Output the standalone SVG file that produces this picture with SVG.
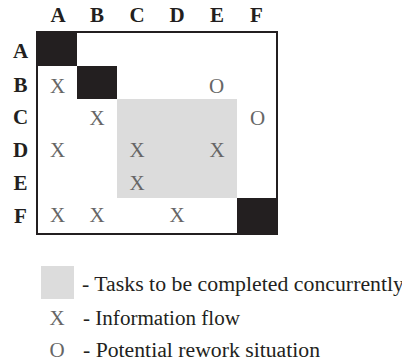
<svg xmlns="http://www.w3.org/2000/svg" width="402" height="364" viewBox="0 0 402 364">
<style>
.hd{font-family:'Liberation Serif','DejaVu Serif',serif;font-size:21px;font-weight:bold;fill:#231f20;text-anchor:middle}
.mk{font-family:'Liberation Serif','DejaVu Serif',serif;font-size:21px;fill:#666666;text-anchor:middle}
.lg{font-family:'Liberation Serif','DejaVu Serif',serif;font-size:20px;fill:#231f20}
.blk{fill:#231f20}
.gry{fill:#dcdcdc}
</style>
<rect width="402" height="364" fill="#ffffff"/>
<g id="column-headers">
<text class="hd" x="58" y="22.3">A</text>
<text class="hd" x="97" y="22.3">B</text>
<text class="hd" x="137" y="22.3">C</text>
<text class="hd" x="177" y="22.3">D</text>
<text class="hd" x="217" y="22.3">E</text>
<text class="hd" x="256.5" y="22.3">F</text>
</g>
<g id="row-headers">
<text class="hd" x="20.5" y="58.3">A</text>
<text class="hd" x="20.5" y="91.7">B</text>
<text class="hd" x="20.5" y="124">C</text>
<text class="hd" x="20.5" y="157">D</text>
<text class="hd" x="20.5" y="190">E</text>
<text class="hd" x="20.5" y="222.5">F</text>
</g>
<g id="matrix">
<rect class="gry" x="117" y="99" width="120" height="99"/>
<rect class="blk" x="36" y="31" width="41" height="35"/>
<rect class="blk" x="77" y="66" width="40" height="33"/>
<rect class="blk" x="237" y="198" width="41" height="37"/>
<rect x="37" y="32" width="240" height="202" fill="none" stroke="#231f20" stroke-width="2"/>
</g>
<g id="marks">
<text class="mk" x="57.5" y="92.7">X</text>
<text class="mk" x="216.5" y="92.7">O</text>
<text class="mk" x="97" y="125">X</text>
<text class="mk" x="257.5" y="125">O</text>
<text class="mk" x="57.5" y="157">X</text>
<text class="mk" x="137" y="157">X</text>
<text class="mk" x="217" y="157">X</text>
<text class="mk" x="137" y="189.5">X</text>
<text class="mk" x="57.5" y="222">X</text>
<text class="mk" x="97" y="222">X</text>
<text class="mk" x="177" y="222">X</text>
</g>
<g id="legend">
<rect class="gry" x="41" y="266" width="33" height="33"/>
<text class="lg" x="82" y="291" textLength="322" lengthAdjust="spacingAndGlyphs">- Tasks to be completed concurrently</text>
<text class="mk" x="57" y="324.5">X</text>
<text class="lg" x="83" y="324.5" textLength="157" lengthAdjust="spacingAndGlyphs">- Information flow</text>
<text class="mk" x="57" y="356.5">O</text>
<text class="lg" x="83" y="356.5" textLength="237" lengthAdjust="spacingAndGlyphs">- Potential rework situation</text>
</g>
</svg>
